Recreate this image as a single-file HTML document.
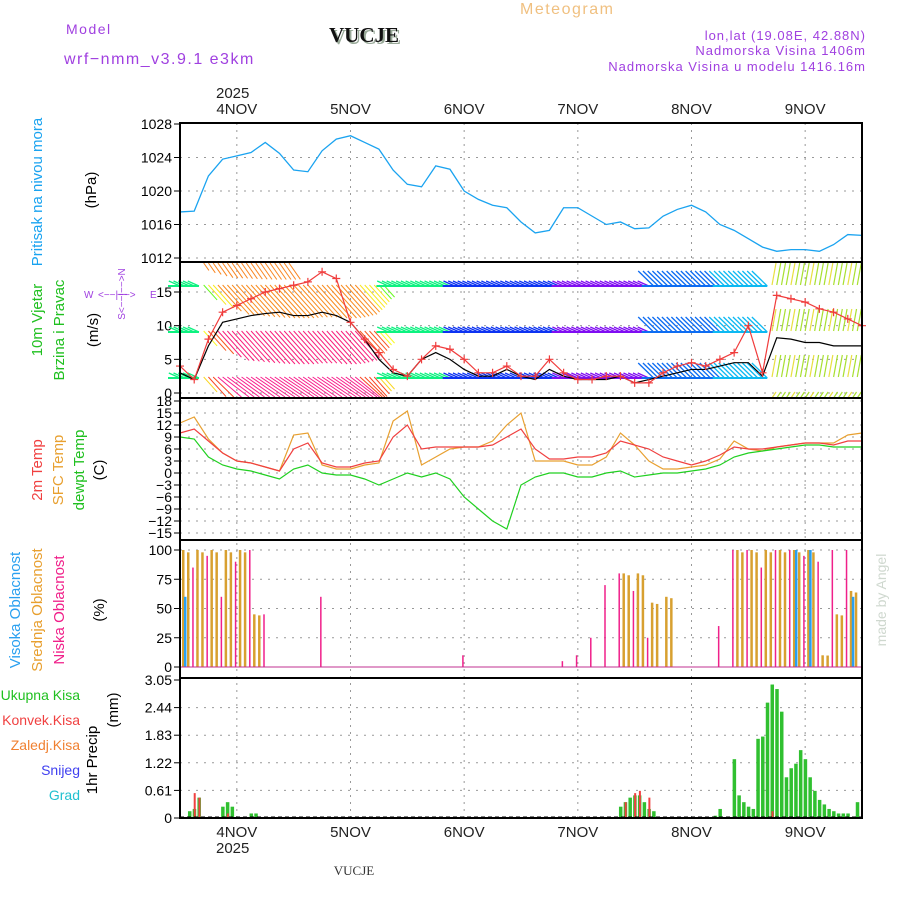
<!DOCTYPE html>
<html><head><meta charset="utf-8"><style>
body{margin:0;background:#fff;width:900px;height:900px;overflow:hidden}
svg{display:block}
</style></head><body>
<svg id="c" width="900" height="900" xmlns="http://www.w3.org/2000/svg" font-family="Liberation Sans, sans-serif"></svg>
<script>
// ---- data (3-hourly, 49 points from 3NOV 12h) ----
const dayLabels=["4NOV","5NOV","6NOV","7NOV","8NOV","9NOV"];
const pressure=[1017.5,1017.6,1021.8,1023.8,1024.2,1024.6,1025.8,1024.5,1022.5,1022.3,1024.8,1026.2,1026.6,1025.8,1025,1022.5,1020.8,1020.5,1023,1022.6,1020,1019,1018.3,1018,1016.3,1015,1015.3,1018,1018,1017,1016,1016.3,1015.5,1015.6,1017,1017.8,1018.3,1017.5,1016,1015.3,1014.3,1013.3,1012.8,1013,1013,1012.8,1013.6,1014.8,1014.7];
const pressTicks=[1012,1016,1020,1024,1028];
const gust=[4,2,8,12,13,14,15,15.5,16,16.5,18,17,10.5,8,6,3.5,2.5,5,7,6.5,5,3,3,4,2.5,2.5,5,3,2,2,2.5,2.5,1.5,1.5,3,4,4.5,4,5,6,10,3,14.5,14,13.5,12.5,12,11,10];
const speed=[3,2,7,10.5,11,11.5,11.8,12,11.5,11.5,12,11.5,10.5,8,5,3,2.5,5,6,5,3.5,2.5,2.5,3.5,2.5,2,3.5,2.5,2,2,2,2.5,1.5,2,2.5,3,3.5,3.5,4,4.5,4.5,2.5,8.2,8,7.5,7.5,7,7,7];
const windTicks=[0,5,10,15];
const t2m=[10,11,8,5,3,2.5,1.5,0.5,6,7.5,2.5,1.5,1.5,2.5,3,9,12,6,6.5,6.5,6.5,6.5,7,9,11,6,3.5,3.5,4,4,5,8,7,6,4,3,2,3,4.5,6.5,6,6,6.5,7,7.5,7.5,7,8,8];
const tsfc=[12.5,14,8.5,5,3,2.5,1.5,0.5,9.5,10,2,1,1,2,2.5,13,15.5,2,4,6,6.5,6.5,8,12,15,3,3,3,2,2,4,10,7,3,1,1,1.5,2,3.5,8,6,5.5,6.5,7,7.5,7.5,7.5,9.5,10];
const tdew=[9,8.5,4,2,1,0.5,-0.5,-1.5,1,2,0,-0.5,-0.5,-1.5,-3,-1.5,0,-1,0,-1.5,-6,-9,-12,-14,-3,-1,0,0,-1,-1,0,0.5,-1,-0.5,0,0,0.5,1,2,4,5,5.5,6,6.5,7,7,6.5,6.5,6.5];
const tempTicks=[-15,-12,-9,-6,-3,0,3,6,9,12,15,18];
const cloudHigh=[60,0,0,0,0,0,0,0,0,0,0,0,0,0,0,0,0,0,0,0,0,0,0,0,0,0,0,0,0,0,0,0,0,0,0,0,0,0,0,0,0,0,0,100,100,0,0,60,0];
const cloudMid=[100,100,100,100,100,45,0,0,0,0,0,0,0,0,0,0,0,0,0,0,0,0,0,0,0,0,0,0,0,0,0,80,80,55,60,0,0,0,0,100,100,100,100,100,100,10,45,65,100];
const cloudLow=[0,85,95,60,90,100,45,0,0,0,60,0,0,0,0,0,0,0,0,0,10,0,0,0,0,0,0,5,10,25,70,80,65,25,0,0,0,0,35,100,100,85,100,100,95,90,100,100,0];
const cloudTicks=[0,25,50,75,100];
const precipHour=[2,3,4,9,10,11,15,16,93,94,95,96,97,98,99,100,113,114,117,118,119,120,121,122,123,124,125,126,127,128,129,130,131,132,133,134,135,136,137,138,139,140,141,143];
const precipTotal=[0.15,0.2,0.45,0.25,0.35,0.25,0.1,0.1,0.25,0.35,0.45,0.5,0.5,0.35,0.2,0.15,0.05,0.2,1.3,0.5,0.35,0.25,0.2,1.75,1.8,2.55,2.95,2.85,2.35,0.9,1.1,1.2,1.5,1.3,0.9,0.6,0.4,0.3,0.2,0.15,0.1,0.1,0.1,0.35];
const convHour=[3,4,10,94,96,97,99,125];
const convVal=[0.55,0.45,0.1,0.35,0.55,0.6,0.45,0.15];
const precipTicks=[0,0.61,1.22,1.83,2.44,3.05];

const S=document.getElementById('c');const NS='http://www.w3.org/2000/svg';
function mk(t,a,txt){const e=document.createElementNS(NS,t);for(const k in a)e.setAttribute(k,a[k]);if(txt!==undefined)e.textContent=txt;S.appendChild(e);return e;}
const X0=180,X1=862;
const xi=i=>X0+i*(X1-X0)/48;
const xh=h=>X0+h*(X1-X0)/144;
const lin=(d0,d1,p0,p1)=>v=>p0+(v-d0)*(p1-p0)/(d1-d0);
const yP=lin(1012,1028,258,124), yW=lin(0,15,393,292), yT=lin(0,18,473,401), yC=lin(0,100,667,550), yR=lin(0,3.05,818,680);
const panels=[[123,262],[262,398],[398,540],[540,678],[678,818]];
function hgrid(vals,f,top,bot){vals.forEach(v=>{const y=f(v);if(y>top+2&&y<bot-2){const l=mk('line',{x1:X0,x2:X1,y1:y,y2:y,stroke:'#999','stroke-dasharray':'2,6'});}});}
hgrid(pressTicks,yP,123,262);hgrid(windTicks,yW,262,398);hgrid(tempTicks,yT,398,540);hgrid(cloudTicks,yC,540,678);hgrid(precipTicks,yR,678,818);
dayLabels.forEach((d,k)=>{const x=xi(4+8*k);const l=mk('line',{x1:x,x2:x,y1:123,y2:818,stroke:'#999','stroke-dasharray':'2,5'});
 const a=mk('text',{x:x,y:114,'text-anchor':'middle','font-size':15,fill:'#222'},d);
 const b=mk('text',{x:x,y:837,'text-anchor':'middle','font-size':15,fill:'#222'},d);});
function yt(vals,f,fmt){vals.forEach(v=>{const y=f(v);const t=mk('text',{x:172,y:y+5,'text-anchor':'end','font-size':14,fill:'#000'},fmt?fmt(v):v);mk('line',{x1:174,x2:X0,y1:y,y2:y,stroke:'#000'});});}
yt(pressTicks,yP);yt(windTicks,yW);yt(tempTicks,yT,v=>v<0?'\u2212'+(-v):v);yt(cloudTicks,yC);yt(precipTicks,yR,v=>v===0?'0':v.toFixed(2));
// wind barbs (approximate)
const rows=[285,331,377];
function sAt(h){const i=h/3;const a=Math.floor(i),b=Math.min(48,a+1),f=i-a;return speed[a]*(1-f)+speed[b]*f;}
for(let h=0;h<144;h++){const s=sAt(h);const x=xh(h);
 if(x>770){[285,331,377,398].forEach((ry,r)=>{const len=r===3?6:22;const l=mk('line',{x1:x,y1:ry,x2:x+4,y2:ry-len,stroke:(h%4==1)?'#e8e040':'#a8e030','stroke-width':1.2});});continue;}
 if(s>4.2&&x<420){
  const d=Math.min(33,s*2.8);
  if(x<290){const l=mk('line',{x1:x,y1:263,x2:x+d*0.35,y2:263+d*0.5,stroke:'hsl(28,95%,55%)'});}
  rows.forEach((ry,r)=>{let hue;if(r===0)hue=s>9?30:(s>6?55:100);else if(r===1)hue=s>9?335:(s>6?15:60);else hue=s>9?330:(s>6?10:50);
   const l=mk('line',{x1:x,y1:ry,x2:x+d*0.9,y2:Math.min(397,ry+d),stroke:`hsl(${hue},95%,55%)`,'stroke-width':1});});
 } else {
  rows.forEach((ry,r)=>{const hue=x<450?150:(x<560?230:(x<650?270:(x<720?215:195)));const len=x>650?22:16;const up=x>650?14:4;
   const l=mk('line',{x1:x,y1:ry+1,x2:x-len*0.7,y2:ry-up,stroke:`hsl(${hue},90%,50%)`,'stroke-width':1.3});
   const t=mk('line',{x1:x,y1:ry+1,x2:x-12,y2:ry+1,stroke:`hsl(${hue},90%,50%)`,'stroke-width':2});});
 }}
function poly(arr,f,col,name,w){const p=arr.map((v,i)=>xi(i)+','+f(v)).join(' ');const e=mk('polyline',{points:p,fill:'none',stroke:col,'stroke-width':w||1.2});return e;}
poly(pressure,yP,'#1aa3f0','pressure-line',1.3);
poly(speed,yW,'#000','wind-speed-line');
poly(gust,yW,'#f03c3c','wind-gust-line');
gust.forEach((v,i)=>{const x=xi(i),y=yW(v);const m=mk('path',{d:`M${x-4},${y}h8M${x},${y-4}v8`,stroke:'#f03c3c','stroke-width':1.2});});
poly(tsfc,yT,'#e8a030','sfc-temp-line');poly(t2m,yT,'#f04040','temp-2m-line');poly(tdew,yT,'#20d020','dewpoint-line');
function bar(x,v,f,col,w,name){if(x+w>X1)return;const y=f(v),y0=f(0);const r=mk('rect',{x:x,y:y,width:w,height:Math.max(0,y0-y),fill:col});}
cloudMid.forEach((v,i)=>{if(v>0){bar(xi(i)+2,v,yC,'#d8a030',2.5,'mid-cloud-bar');bar(xi(i)+7,v*0.98,yC,'#d8a030',2.5,'mid-cloud-bar');}});
cloudLow.forEach((v,i)=>{if(v>0)bar(xi(i)-2,v,yC,'#f0208a',1.5,'low-cloud-bar');});
cloudHigh.forEach((v,i)=>{if(v>0)bar(xi(i)+4,v,yC,'#2aa0f0',2.5,'high-cloud-bar');});
mk('line',{x1:X0,x2:X1,y1:667,y2:667,stroke:'#c03090'});
precipHour.forEach((h,k)=>bar(xh(h)-1.5,precipTotal[k],yR,'#30c030',3.5,'total-precip-bar'));
convHour.forEach((h,k)=>bar(xh(h)-0.5,convVal[k],yR,'#f04040',2,'convective-precip-bar'));
mk('line',{x1:X0,x2:X1,y1:817,y2:817,stroke:'#000','stroke-dasharray':'4,3'});
panels.forEach(p=>{const r=mk('rect',{x:X0,y:p[0],width:X1-X0,height:p[1]-p[0],fill:'none',stroke:'#000','stroke-width':2});});
function T(x,y,s,col,size,name,extra){const a=Object.assign({x:x,y:y,fill:col,'font-size':size},extra||{});const t=mk('text',a,s);return t;}
function R(x,y,s,col,size,name){return T(x,y,s,col,size,name,{transform:`rotate(-90 ${x} ${y})`,'text-anchor':'middle'});}
T(66,34,'Model','#a040e0',14,'model-label',{'letter-spacing':'1.5'});
T(64,64,'wrf\u2212nmm_v3.9.1 e3km','#a040e0',16,'model-name',{'letter-spacing':'1.5'});
T(331,44,'VUCJE','#9a9',21,'title-shadow',{'font-family':'Liberation Serif, serif','font-weight':'bold'});
T(329,42,'VUCJE','#111',21,'title',{'font-family':'Liberation Serif, serif','font-weight':'bold'});
T(520,14,'Meteogram','#f0c080',16,'meteogram-label',{'letter-spacing':'1.5'});
T(866,40,'lon,lat (19.08E, 42.88N)','#a040e0',13,'coords',{'text-anchor':'end','letter-spacing':'1'});
T(866,55,'Nadmorska Visina 1406m','#a040e0',13,'elevation',{'text-anchor':'end','letter-spacing':'1'});
T(866,71,'Nadmorska Visina u modelu 1416.16m','#a040e0',13,'model-elevation',{'text-anchor':'end','letter-spacing':'1'});
T(216,98,'2025','#222',15,'year-top');T(216,853,'2025','#222',15,'year-bottom');
T(354,875,'VUCJE','#333',13,'footer-station',{'text-anchor':'middle','font-family':'Liberation Serif, serif'});
R(42,192,'Pritisak na nivou mora','#1aa3f0',15,'pressure-axis-title');R(96,190,'(hPa)','#000',15,'pressure-unit');
R(42,320,'10m Vjetar','#20c020',15,'wind-axis-title');R(64,330,'Brzina i Pravac','#20c020',15,'wind-axis-title2');R(98,330,'(m/s)','#000',15,'wind-unit');
T(84,298,'W','#a040e0',10,'compass-w');T(150,298,'E','#a040e0',10,'compass-e');
T(98,298,'<\u2212\u2212|\u2212\u2212>','#a040e0',10,'compass-ew');R(125,294,'S<\u2212\u2212|\u2212\u2212>N','#a040e0',10,'compass-ns');
R(42,470,'2m Temp','#f04040',15,'temp-2m-title');R(63,470,'SFC Temp','#e8a030',15,'sfc-temp-title');R(84,470,'dewpt Temp','#20c020',15,'dewpoint-title');R(104,470,'(C)','#000',15,'temp-unit');
R(20,610,'Visoka Oblacnost','#2aa0f0',15,'high-cloud-title');R(42,610,'Srednja Oblacnost','#e8a030',15,'mid-cloud-title');R(64,610,'Niska Oblacnost','#f0208a',15,'low-cloud-title');R(104,610,'(%)','#000',15,'cloud-unit');
T(80,700,'Ukupna Kisa','#20c020',14,'legend-total',{'text-anchor':'end'});
T(80,725,'Konvek.Kisa','#f04040',14,'legend-convective',{'text-anchor':'end'});
T(80,750,'Zaledj.Kisa','#f08030',14,'legend-freezing',{'text-anchor':'end'});
T(80,775,'Snijeg','#4040f0',14,'legend-snow',{'text-anchor':'end'});
T(80,800,'Grad','#20c0d0',14,'legend-hail',{'text-anchor':'end'});
R(97,760,'1hr Precip','#000',15,'precip-title');R(118,710,'(mm)','#000',15,'precip-unit');
R(886,600,'made by Angel','#cfd8cf',14,'watermark');
</script>
</body></html>
